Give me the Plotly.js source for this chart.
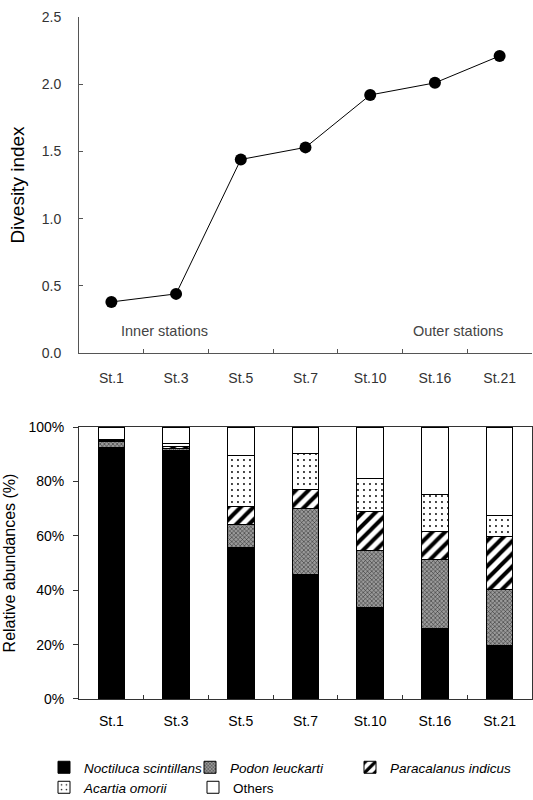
<!DOCTYPE html>
<html>
<head>
<meta charset="utf-8">
<script src="https://cdn.plot.ly/plotly-3.0.1.min.js"></script>
<style>html,body{margin:0;padding:0;background:#fff;}#chart{width:533px;height:800px;}</style>
</head>
<body>
<div id="chart"></div>
<script>
const stations = ["St.1", "St.3", "St.5", "St.7", "St.10", "St.16", "St.21"];
const diversity = [0.38, 0.44, 1.44, 1.53, 1.92, 2.01, 2.21];
const noctiluca = [92.4, 91.5, 55.6, 45.6, 33.6, 26.0, 19.6];
const podon = [2.1, 0.5, 8.6, 24.5, 20.9, 25.4, 20.7];
const paracalanus = [0.7, 0.8, 6.4, 7.1, 14.4, 10.1, 19.6];
const acartia = [0.3, 1.3, 18.9, 13.1, 12.0, 13.7, 7.7];
const others = [4.5, 5.9, 10.5, 9.7, 19.1, 24.8, 32.4];
const yTicks = [0, 0.5, 1.0, 1.5, 2.0, 2.5];
const yTickText = ["0.0", "0.5", "1.0", "1.5", "2.0", "2.5"];
const pctTicks = [0, 20, 40, 60, 80, 100];
const pctTickText = ["0%", "20%", "40%", "60%", "80%", "100%"];

const FONT = "Liberation Sans, Arial, sans-serif";
const outline = {color: "#000", width: 1};

function barTrace(name, vals, marker, italic, legendId) {
  return {
    type: "bar", x: stations, y: vals, xaxis: "x2", yaxis: "y2",
    name: italic ? "<i>" + name + "</i>" : name,
    legend: legendId,
    marker: Object.assign({line: outline}, marker),
    width: 0.41
  };
}

const data = [
  {
    type: "scatter", mode: "lines+markers", x: stations, y: diversity,
    xaxis: "x", yaxis: "y", showlegend: false,
    line: {color: "#000", width: 1},
    marker: {color: "#000", size: 12, symbol: "circle"}
  },
  barTrace("Noctiluca scintillans", noctiluca, {color: "#000"}, true, "legend"),
  barTrace("Podon leuckarti", podon, {color: "#8c8c8c", pattern: {shape: "x", fgcolor: "#222", bgcolor: "#9a9a9a", size: 3, solidity: 0.3}}, true, "legend2"),
  barTrace("Paracalanus indicus", paracalanus, {color: "#fff", pattern: {shape: "/", fgcolor: "#000", bgcolor: "#fff", size: 9, solidity: 0.45}}, true, "legend3"),
  barTrace("Acartia omorii", acartia, {color: "#fff", pattern: {shape: ".", fgcolor: "#000", bgcolor: "#fff", size: 6, solidity: 0.08}}, true, "legend4"),
  barTrace("Others", others, {color: "#fff"}, false, "legend5")
];

function leg(xpx, ypx) {
  return {
    orientation: "h", xref: "container", yref: "container",
    x: xpx / 533, xanchor: "left", y: 1 - ypx / 800, yanchor: "top",
    font: {family: FONT, size: 13.5, color: "#000"},
    bgcolor: "rgba(0,0,0,0)", itemwidth: 30
  };
}

const layout = {
  width: 533, height: 800,
  margin: {l: 79, r: 1, t: 17, b: 101},
  paper_bgcolor: "#fff", plot_bgcolor: "#fff",
  font: {family: FONT, color: "#333"},
  barmode: "stack",
  showlegend: true,
  legend: leg(44, 752),
  legend2: leg(190, 752),
  legend3: leg(350, 752),
  legend4: leg(44, 772),
  legend5: leg(193, 772),
  xaxis: {
    domain: [0, 1], anchor: "y", type: "category",
    range: [-0.5, 6.5], showline: true, linecolor: "#555", linewidth: 1,
    ticks: "inside", ticklen: 4, tickcolor: "#555", tickson: "boundaries",
    tickfont: {size: 14, color: "#333"}, ticklabelstandoff: 12,
    showgrid: false, zeroline: false, fixedrange: true
  },
  yaxis: {
    domain: [0.5073, 1], anchor: "x",
    range: [0, 2.5], tickvals: yTicks, ticktext: yTickText,
    showline: true, linecolor: "#555", linewidth: 1,
    ticks: "inside", ticklen: 4, tickcolor: "#555",
    tickfont: {size: 14, color: "#333"}, ticklabelstandoff: 14,
    showgrid: false, zeroline: false,
    title: {text: "Divesity index", font: {size: 19, color: "#000"}, standoff: 12}
  },
  xaxis2: {
    domain: [0, 1], anchor: "y2", type: "category",
    range: [-0.5, 6.5], showline: true, mirror: true, linecolor: "#333", linewidth: 1,
    ticks: "inside", ticklen: 4, tickcolor: "#333", tickson: "boundaries",
    tickfont: {size: 14, color: "#000"}, ticklabelstandoff: 9,
    showgrid: false, zeroline: false
  },
  yaxis2: {
    domain: [0, 0.3988], anchor: "x2",
    range: [0, 100], tickvals: pctTicks, ticktext: pctTickText,
    showline: true, mirror: true, linecolor: "#333", linewidth: 1,
    ticks: "outside", ticklen: 5, tickcolor: "#333",
    tickfont: {size: 14, color: "#000"}, ticklabelstandoff: 6,
    showgrid: false, zeroline: false,
    title: {text: "Relative abundances (%)", font: {size: 16, color: "#000"}, standoff: 8}
  },
  bargap: 0.59,
  annotations: [
    {xref: "x", yref: "y", x: 0.12, y: 0.165, xanchor: "left", yanchor: "middle",
     text: "Inner stations", showarrow: false, font: {size: 14.5, color: "#444"}},
    {xref: "x", yref: "y", x: 6.09, y: 0.165, xanchor: "right", yanchor: "middle",
     text: "Outer stations", showarrow: false, font: {size: 14.5, color: "#444"}}
  ]
};

Plotly.newPlot("chart", data, layout, {staticPlot: true, displayModeBar: false});
</script>
</body>
</html>
